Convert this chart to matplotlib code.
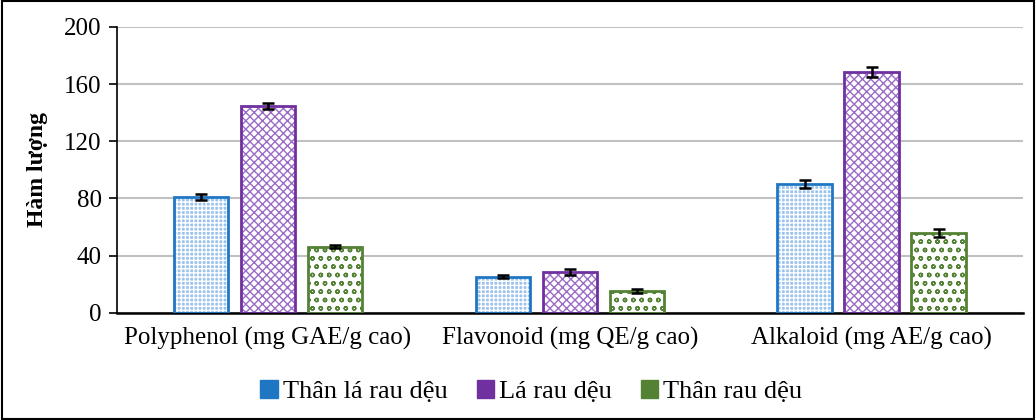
import matplotlib.pyplot as plt
import numpy as np

plt.rcParams['font.family'] = ['Liberation Serif', 'DejaVu Serif']
plt.rcParams['hatch.linewidth'] = 1.0

categories = ['Polyphenol (mg GAE/g cao)', 'Flavonoid (mg QE/g cao)', 'Alkaloid (mg AE/g cao)']
series = ['Thân lá rau dệu', 'Lá rau dệu', 'Thân rau dệu']
than_la = [81.2, 25.3, 90.3]
than_la_err = [2.2, 1.0, 2.8]
la = [144.8, 28.7, 168.5]
la_err = [2.2, 2.0, 3.5]
than = [46.3, 15.5, 56.2]
than_err = [1.0, 1.3, 2.8]
yticks = [0, 40, 80, 120, 160, 200]

# edge colour, face colour, hatch
styles = [('#1f77c4', '#9cc3ec', '++++'),
          ('#7030a0', 'white', 'xxxx'),
          ('#548235', 'white', 'oo')]
hatch_cols = ['white', '#9a6cc6', '#548235']

fig = plt.figure(figsize=(10.36, 4.2), dpi=100)
ax = fig.add_axes([0.113, 0.255, 0.874, 0.681])

index = np.arange(len(categories))
bar_width = 0.18
step = 0.222
data = [(than_la, than_la_err), (la, la_err), (than, than_err)]
handles = []
for i, (vals, errs) in enumerate(data):
    ec, fc, h = styles[i]
    x = index + (i - 1) * step
    ax.bar(x, vals, bar_width, color=fc, hatch=h, edgecolor=hatch_cols[i], linewidth=0, zorder=2)
    ax.bar(x, vals, bar_width, facecolor='none', edgecolor=ec, linewidth=2, zorder=3)
    ax.errorbar(x, vals, yerr=errs, fmt='none', ecolor='black', elinewidth=1.8,
                capsize=4, capthick=1.8, zorder=4)
    handles.append(plt.Rectangle((0, 0), 1, 1, facecolor=ec, edgecolor=ec, hatch=h))

ax.set_ylim(0, 200)
ax.set_xlim(-0.5, 2.5)
ax.set_yticks(yticks)
ax.set_xticks(index, categories)
ax.tick_params(axis='y', labelsize=18, direction='out', length=6, width=1.2, pad=5)
ax.tick_params(axis='x', labelsize=18, length=0, pad=10)
ax.yaxis.grid(True, color='#c0c0c0', linewidth=1.5, zorder=0)
ax.set_axisbelow(True)
for s in ['top', 'right']:
    ax.spines[s].set_visible(False)
ax.spines['left'].set_linewidth(1.2)
ax.spines['bottom'].set_linewidth(1.8)
ax.set_ylabel('Hàm lượng', fontsize=17, fontweight='bold', labelpad=12)

fig.legend(handles, series, loc='center', bbox_to_anchor=(0.513, 0.067), ncol=3,
           frameon=False, fontsize=19, handlelength=0.65, handleheight=0.65,
           handletextpad=0.2, columnspacing=1.1)

border = plt.Rectangle((0.002, 0.002), 0.996, 0.996, transform=fig.transFigure,
                       fill=False, edgecolor='black', linewidth=1.5)
fig.patches.append(border)

fig.savefig('out.png', dpi=100)
